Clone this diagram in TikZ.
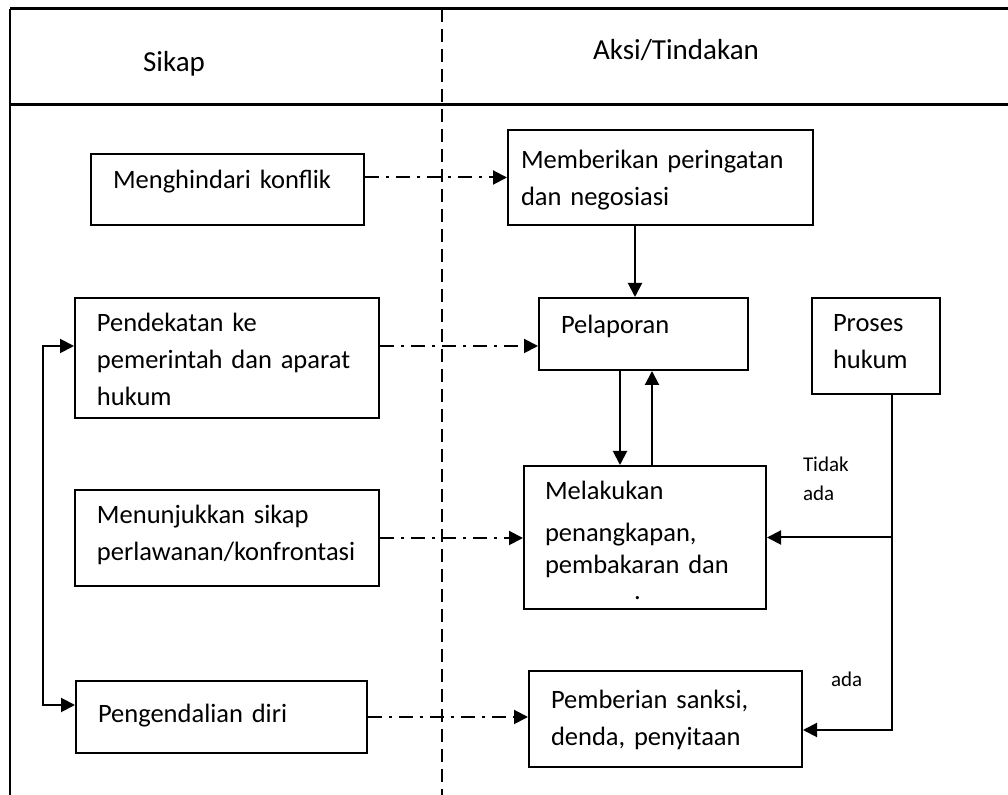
\documentclass[tikz,border=0pt]{standalone}
\usepackage{fontspec}
\setmainfont{Carlito}
\usetikzlibrary{positioning,arrows.meta}

\begin{document}
\begin{tikzpicture}[x=0.5pt,y=-0.5pt,line width=1pt,>={Triangle[length=7pt,width=7pt]},
    box node/.style={draw,anchor=north west,align=left,inner xsep=11pt,inner ysep=0pt,
        font=\fontsize{13.25}{18.5}\selectfont,text height=17pt},
    head node/.style={anchor=base,font=\fontsize{14.5}{17}\selectfont},
    label node/.style={anchor=base west,align=left,inner sep=0pt,text width=30pt,
        font=\fontsize{10.5}{14.5}\selectfont},
    dashdot/.style={->,dash pattern=on 7pt off 3.5pt on 1.5pt off 3.5pt}]
\useasboundingbox (0,0) rectangle (1008,795);
%Frame
\draw[line width=1.5pt] (10,9) -- (1008,9);
\draw[line width=1.5pt] (10,105) -- (1008,105);
\draw (10,9) -- (10,795);
\draw[dash pattern=on 6.5pt off 3.5pt] (442,9) -- (442,795);
%Nodes
\node[head node] (HS) at (174,72) {Sikap};
\node[head node] (HA) at (676,60) {Aksi/Tindakan};

\node[box node,text width=114.5pt,text height=17.5pt,text depth=18pt] (S1) at (90,153) {Menghindari konflik};
\node[box node,text width=130pt,text depth=43pt] (S2) at (74,297) {Pendekatan ke\\pemerintah dan aparat\\hukum};
\node[box node,text width=130pt,text depth=31pt] (S3) at (74,489) {Menunjukkan sikap\\perlawanan/konfrontasi};
\node[box node,text width=123.5pt,text height=21pt,text depth=15pt] (S4) at (75,680) {Pengendalian diri};

\node[box node,inner xsep=6.5pt,text width=139.5pt,text height=19.5pt,text depth=28pt] (A1) at (507,129) {Memberikan peringatan\\dan negosiasi};
\node[box node,text width=82.5pt,text height=18pt,text depth=18pt] (A2) at (538,297) {Pelaporan};
\node[box node,inner xsep=10.5pt,text width=100pt,text depth=54.5pt] (A3) at (523,465) {Melakukan\\[2.5pt]penangkapan,\\[-2.5pt]pembakaran dan\\[-5.5pt]\hspace*{44.5pt}.};
\node[box node,text width=114.5pt,text height=19pt,text depth=29pt] (A4) at (528,670) {Pemberian sanksi,\\denda, penyitaan};
\node[box node,inner xsep=10.5pt,text width=43pt,text depth=31pt] (A5) at (811,297) {Proses\\hukum};

\node[label node] (L1) at (802,472) {Tidak\\ada};
\node[label node] (L2) at (830,687) {ada};
%Lines
\draw[dashdot] (S1.east |- A1.west) -- (A1.west);
\draw[dashdot] ([yshift=6pt]S2.east) -- ([yshift=6pt]S2.east -| A2.west);
\draw[dashdot] (S3.east) -- (S3.east -| A3.west);
\draw[dashdot] (S4.east) -- (S4.east -| A4.west);
\draw[->] ([xshift=-4.25pt]A2.north |- A1.south) -- ([xshift=-4.25pt]A2.north);
\draw[->] ([xshift=-11.75pt]A2.south) -- ([xshift=-11.75pt]A2.south |- A3.north);
\draw[->] ([xshift=4.25pt]A2.south |- A3.north) -- ([xshift=4.25pt]A2.south);
\draw[->] ([xshift=8pt]A5.south) |- ([yshift=-5.5pt]A4.east);
\draw[->] ([xshift=8pt]A5.south |- A3.east) -- (A3.east);
\draw[<->] ([yshift=6pt]S2.west) -- ++(-31,0) |- ([yshift=6pt]S4.west);
\end{tikzpicture}
\end{document}
